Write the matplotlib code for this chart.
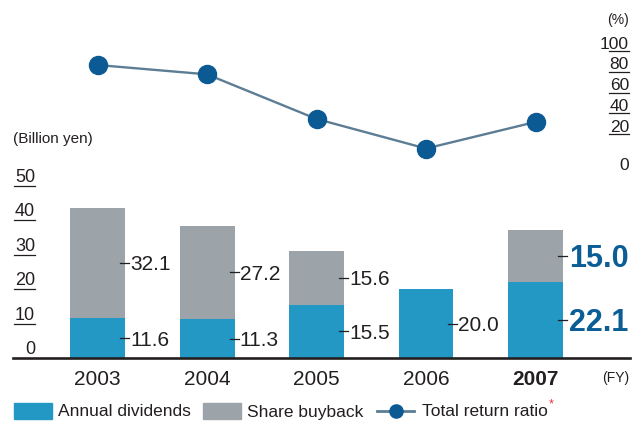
import matplotlib
matplotlib.use('Agg')
import matplotlib.pyplot as plt
import matplotlib.transforms as mtransforms
from matplotlib.patches import Rectangle
from matplotlib.lines import Line2D

plt.rcParams['font.family'] = ['Liberation Sans', 'DejaVu Sans']

years = ['2003', '2004', '2005', '2006', '2007']
dividends = [11.6, 11.3, 15.5, 20.0, 22.1]
buyback = [32.1, 27.2, 15.6, 0.0, 15.0]
return_ratio = [86.5, 77.5, 34.5, 6.0, 31.6]
left_ticks = [0, 10, 20, 30, 40, 50]
right_ticks = [20, 40, 60, 80, 100]

W, H = 641, 421
TXT = '#231f20'
BLUE = '#2398c4'
GRAY = '#9ca4a9'
LINE = '#5c7d93'
DOT = '#0b5a94'
BOLD_BLUE = '#0b5d95'

fig = plt.figure(figsize=(W / 100, H / 100), dpi=100)


def fx(x):
    return x / W


def fy(y):
    return 1 - y / H


# bar axes: y 0 at px 358, 50 at px 186
ax = fig.add_axes([fx(13), fy(358), (630 - 13) / W, 172 / H])
ax.set_ylim(0, 50)
ax.set_xlim(-0.772, 4.863)
for s in ['top', 'right', 'left']:
    ax.spines[s].set_visible(False)
ax.spines['bottom'].set_linewidth(1.9)
ax.spines['bottom'].set_color(TXT)
ax.set_xticks([])
ax.set_yticks([])
ax.patch.set_alpha(0)

# line axes: 0 at px 154.75, 100 at px 51
ax2 = fig.add_axes([fx(13), fy(154.75), (630 - 13) / W, 103.75 / H])
ax2.set_ylim(0, 100)
ax2.set_xlim(ax.get_xlim())
ax2.axis('off')

x = list(range(len(years)))
w = 0.502
ax.bar(x, dividends, width=w, color=BLUE)
ax.bar(x, buyback, width=w, bottom=dividends, color=GRAY)

ax2.plot(x, return_ratio, color=LINE, lw=1.7, marker='o', ms=13,
         mfc=DOT, mec=DOT, clip_on=False, zorder=3)

# value labels with little leaders
px = 1 / 109.5
down2 = mtransforms.offset_copy(ax.transData, fig=fig, y=-2, units='dots')
down3 = mtransforms.offset_copy(ax.transData, fig=fig, y=-3, units='dots')
for i in x:
    xr = i + w / 2
    segs = [(dividends[i], dividends[i] / 2)]
    if buyback[i] > 0:
        segs.append((buyback[i], dividends[i] + buyback[i] / 2))
    for val, mid in segs:
        ax.plot([xr - 5 * px, xr + 4 * px], [mid, mid], color=TXT, lw=0.9,
                clip_on=False, zorder=4)
        if i == len(years) - 1:
            ax.text(xr + 6 * px, mid, f'{val:.1f}', fontsize=22,
                    fontweight='bold', color=BOLD_BLUE, ha='left',
                    va='center', transform=down3)
        else:
            ax.text(xr + 5 * px, mid, f'{val:.1f}', fontsize=15, color=TXT,
                    ha='left', va='center', transform=down2)

# year labels
tyear = mtransforms.blended_transform_factory(ax.transData, fig.transFigure)
for i, yr in enumerate(years):
    ax.text(i, fy(385), yr, transform=tyear, ha='center', va='baseline',
            fontsize=15, color=TXT,
            fontweight='bold' if i == len(years) - 1 else 'normal')

# left axis labels with underlines
tl = mtransforms.blended_transform_factory(fig.transFigure, ax.transData)
tl_up = mtransforms.offset_copy(tl, fig=fig, y=4, units='dots')
for v in left_ticks:
    ax.text(fx(35), v, str(v), transform=tl_up, ha='right', va='baseline',
            fontsize=13, color=TXT)
    if v > 0:
        ax.plot([fx(14), fx(35)], [v, v], transform=tl, color=TXT, lw=0.9,
                clip_on=False)

# right axis labels with underlines
tr = mtransforms.blended_transform_factory(fig.transFigure, ax2.transData)
tr_up = mtransforms.offset_copy(tr, fig=fig, y=2.5, units='dots')
for v in right_ticks:
    ax2.text(fx(629), v, str(v), transform=tr_up, ha='right', va='baseline',
             fontsize=12.5, color=TXT)
    ax2.plot([fx(609), fx(629)], [v, v], transform=tr, color=TXT, lw=0.9,
             clip_on=False)
fig.text(fx(629), fy(170), '0', ha='right', va='baseline', fontsize=12.5,
         color=TXT)

# unit labels
fig.text(fx(13), fy(143), '(Billion yen)', ha='left', va='baseline',
         fontsize=11, color=TXT)
fig.text(fx(629), fy(24), '(%)', ha='right', va='baseline', fontsize=10,
         color=TXT)
fig.text(fx(629), fy(382), '(FY)', ha='right', va='baseline', fontsize=10,
         color=TXT)

# legend
fig.patches.append(Rectangle((fx(14), fy(419)), 38 / W, 16 / H,
                             transform=fig.transFigure, color=BLUE))
fig.text(fx(58), fy(416.5), 'Annual dividends', ha='left', va='baseline',
         fontsize=12.5, color=TXT)
fig.patches.append(Rectangle((fx(203), fy(419)), 38 / W, 16 / H,
                             transform=fig.transFigure, color=GRAY))
fig.text(fx(247), fy(416.5), 'Share buyback', ha='left', va='baseline',
         fontsize=12.5, color=TXT)
fig.lines.append(Line2D([fx(377), fx(414)], [fy(410.5), fy(410.5)],
                        transform=fig.transFigure, color=LINE, lw=2))
fig.lines.append(Line2D([fx(396)], [fy(410.5)], transform=fig.transFigure,
                        marker='o', ms=9.5, mfc=DOT, mec=DOT, lw=0))
t = fig.text(fx(422), fy(416.5), 'Total return ratio', ha='left',
             va='baseline', fontsize=12.5, color=TXT)
fig.canvas.draw()
bb = t.get_window_extent()
fig.text(bb.x1 / W + 1 / W, fy(407), '*', ha='left', va='baseline',
         fontsize=9, color='#e8303a')

fig.savefig('out.png', dpi=100)
